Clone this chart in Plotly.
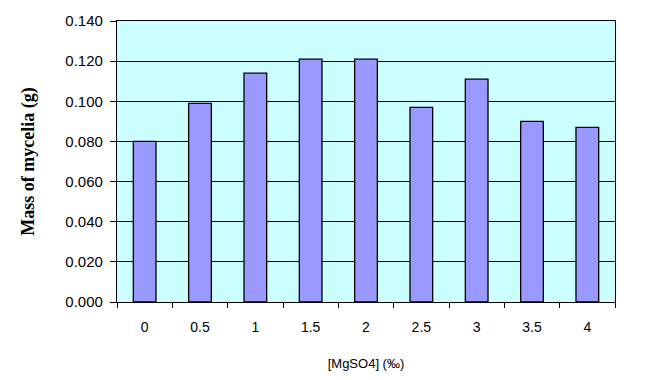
import plotly.graph_objects as go

categories = ["0", "0.5", "1", "1.5", "2", "2.5", "3", "3.5", "4"]
mass = [0.080, 0.099, 0.114, 0.121, 0.121, 0.097, 0.111, 0.090, 0.087]
y_ticks = [0.000, 0.020, 0.040, 0.060, 0.080, 0.100, 0.120, 0.140]

fig = go.Figure(go.Bar(
    x=categories, y=mass,
    marker=dict(color="#9999FF", line=dict(color="#000000", width=1.3)),
    width=0.41,
))

fig.update_layout(
    width=660, height=380,
    margin=dict(l=117, r=45, t=16, b=78),
    paper_bgcolor="white",
    plot_bgcolor="#CCFFFF",
    showlegend=False,
    font=dict(family="Arial, Liberation Sans", size=14, color="#000000"),
    xaxis=dict(
        type="category",
        tickson="boundaries",
        ticks="outside", ticklen=5, tickcolor="#000000", tickwidth=1.3,
        showline=True, linecolor="#000000", linewidth=1.3, mirror=True,
        showgrid=False,
        ticklabelstandoff=12,
        title=dict(text="[MgSO4] (‰)", font=dict(size=13), standoff=24),
        tickfont=dict(size=14),
    ),
    yaxis=dict(
        range=[0, 0.140],
        tickvals=y_ticks,
        ticktext=[f"{v:.3f}" for v in y_ticks],
        ticks="outside", ticklen=6, tickcolor="#000000", tickwidth=1.3,
        showline=True, linecolor="#000000", linewidth=1.3, mirror=True,
        showgrid=True, gridcolor="#000000", gridwidth=1.2,
        zeroline=False,
        ticklabelstandoff=4,
        tickfont=dict(size=15),
        title=dict(text="<b>Mass of mycelia (g)</b>",
                   font=dict(family="Times New Roman, Liberation Serif, serif", size=18),
                   standoff=26),
    ),
)

fig.write_html("out.html")
